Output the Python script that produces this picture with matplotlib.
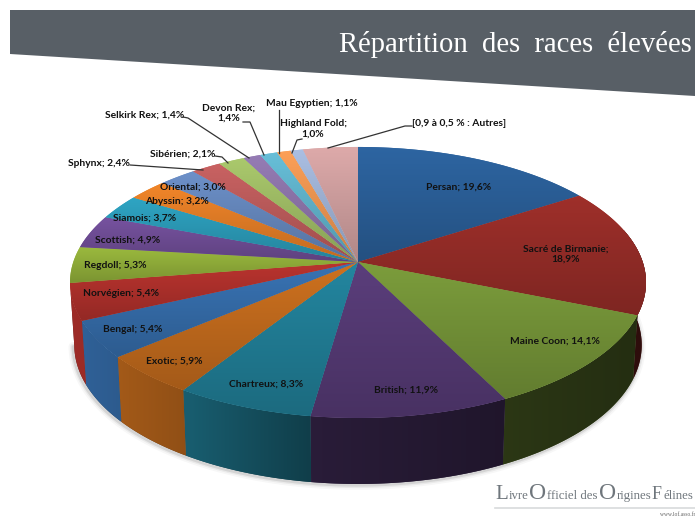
import numpy as np
import matplotlib
matplotlib.use('Agg')
import matplotlib.pyplot as plt
from matplotlib.patches import Polygon
from matplotlib.colors import LinearSegmentedColormap

breeds = ['Persan', 'Sacré de Birmanie', 'Maine Coon', 'British', 'Chartreux', 'Exotic', 'Bengal',
          'Norvégien', 'Regdoll', 'Scottish', 'Siamois', 'Abyssin', 'Oriental', 'Sphynx', 'Sibérien',
          'Selkirk Rex', 'Devon Rex', 'Mau Egyptien', 'Highland Fold', 'Autres']
# the "Autres" slice has no number on the chart, it is read from the size of the slice
values = [19.6, 18.9, 14.1, 11.9, 8.3, 5.9, 5.4, 5.4, 5.3, 4.9, 3.7, 3.2, 3.0, 2.4, 2.1, 1.4, 1.4, 1.1, 1.0, 4.4]
colors = ['#2c629d', '#9a2e29', '#78983a', '#583c78', '#22829b', '#c86e1e', '#3770af', '#b4322d',
          '#96b43c', '#73509b', '#2da0be', '#eb8228', '#698cc3', '#c35f5f', '#a5c369', '#9178af',
          '#64b9d2', '#f59b55', '#a5b9dc', '#d7a5a5']
labels = ['Persan; 19,6%', 'Sacré de Birmanie;\n18,9%', 'Maine Coon; 14,1%', 'British; 11,9%', 'Chartreux; 8,3%',
          'Exotic; 5,9%', 'Bengal; 5,4%', 'Norvégien; 5,4%', 'Regdoll; 5,3%', 'Scottish; 4,9%', 'Siamois; 3,7%',
          'Abyssin; 3,2%', 'Oriental; 3,0%', 'Sphynx; 2,4%', 'Sibérien; 2,1%', 'Selkirk Rex; 1,4%',
          'Devon Rex;\n1,4%', 'Mau Egyptien; 1,1%', 'Highland Fold;\n1,0%', '[0,9 à 0,5 % : Autres]']
label_pos = [(459, 187), (566, 254), (555, 341), (406, 390), (266, 384), (174, 361), (133, 329), (121, 294),
             (115, 266), (128, 240), (145, 218), (177, 202), (193, 187), (99, 163), (183, 154), (145, 115),
             (229, 113), (312, 104), (313, 129), (459, 124)]
leaders = [
    [(130, 165), (203, 170)],
    [(215, 156), (222, 157), (228, 163)],
    [(183, 117), (188, 118), (249, 158)],
    [(243, 122), (250, 122), (264, 155)],
    [(279, 110), (279, 153)],
    [(302, 139), (297, 140), (292, 153)],
    [(412, 126), (405, 126), (328, 148)],
]

fig = plt.figure(figsize=(6.95, 5.17), dpi=100)
ax = fig.add_axes([0, 0, 1, 1])
ax.set_xlim(0, 695)
ax.set_ylim(517, 0)
ax.axis('off')


# disc seen in perspective, theta clockwise from the top
def top_face(t):
    w = 1 + 0.151 * np.cos(t)
    return 358 + 284.7 * np.sin(t) / w, 262 - 132.4 * np.cos(t) / w


def bottom_face(t):
    x, y = top_face(t)
    return 358 + (x - 358) * 0.985, y + 62 - 4 * np.cos(t)


def shade(c, f):
    return tuple(np.array(matplotlib.colors.to_rgb(c)) * f)


edges = np.concatenate([[0], np.cumsum(values)]) / sum(values) * 2 * np.pi

# soft shadow under the pie
tt = np.linspace(np.pi / 2 - 0.1, 1.45 * np.pi, 200)
bx, by = bottom_face(tt)
for lw, a in [(7, 0.03), (4.5, 0.05), (2.5, 0.09)]:
    ax.plot(bx - 1, by + 1, color='black', lw=lw, alpha=a, solid_capstyle='round', zorder=1)

# side wall, darker towards the right
for i, c in enumerate(colors):
    t0 = max(edges[i], np.pi * 0.42)
    t1 = min(edges[i + 1], np.pi * 1.45)
    if t1 <= t0:
        continue
    tt = np.linspace(t0, t1, 50)
    xa, ya = top_face(tt)
    xb, yb = bottom_face(tt)
    pts = np.column_stack([np.r_[xa, xb[::-1]], np.r_[ya, yb[::-1]]])
    poly = Polygon(pts, fc=shade(c, 0.5), ec='none', zorder=2)
    ax.add_patch(poly)
    xs = np.linspace(pts[:, 0].min(), pts[:, 0].max(), 64)
    f = np.interp(xs, [70, 187, 315, 508, 640], [0.88, 0.72, 0.47, 0.36, 0.3])
    img = np.outer(f, matplotlib.colors.to_rgb(c)).reshape(1, -1, 3)
    im = ax.imshow(img, aspect='auto', zorder=2.1, interpolation='bilinear',
                   extent=(xs[0], xs[-1], pts[:, 1].max(), pts[:, 1].min()))
    im.set_clip_path(poly)

# top face, every slice with its own vertical gradient
for i, c in enumerate(colors):
    tt = np.linspace(edges[i], edges[i + 1], 60)
    x, y = top_face(tt)
    pts = np.column_stack([np.r_[358, x], np.r_[262, y]])
    poly = Polygon(pts, fc=c, ec='none', zorder=3)
    ax.add_patch(poly)
    cmap = LinearSegmentedColormap.from_list('g', [shade(c, 1.03), shade(c, 0.82)])
    im = ax.imshow(np.linspace(0, 1, 64).reshape(-1, 1), cmap=cmap, aspect='auto', zorder=3.1,
                   extent=(pts[:, 0].min(), pts[:, 0].max(), pts[:, 1].max(), pts[:, 1].min()))
    im.set_clip_path(poly)
ax.set_xlim(0, 695)
ax.set_ylim(517, 0)

for pts in leaders:
    ax.plot([p[0] for p in pts], [p[1] for p in pts], color='#333333', lw=0.9, zorder=4)

for lab, (x, y) in zip(labels, label_pos):
    ax.text(x, y, lab, ha='center', va='center', fontsize=7.4, family='Lato', fontweight='bold',
            color='#111111', linespacing=1.2, zorder=5)

# header band
ax.add_patch(Polygon([(10, 10), (695, 10), (695, 96), (10, 54)], fc='#585f66', ec='none', zorder=6))
ax.text(692, 45, 'Répartition  des  races  élevées', ha='right', va='center', color='white',
        fontsize=20.6, family='Liberation Serif', zorder=7)

# logo bottom right, big initials
parts = ['L', 'ivre', 'O', 'fficiel des', 'O', 'rigines', 'F', 'élines']
part_x = [495, 509, 529, 547, 599, 617, 652, 663]
part_size = [15, 9.2, 17, 9.2, 17, 9.2, 13, 9.2]
for s, x, fs in zip(parts, part_x, part_size):
    ax.text(x, 499, s, fontsize=fs, family='Liberation Serif', color='#6f767c', ha='left',
            va='baseline', zorder=7)
ax.plot([495, 695], [508, 508], color='#d8dadc', lw=1.2, zorder=7)
ax.text(695, 514, 'www.lof.asso.fr', fontsize=4, family='Liberation Serif', color='#666666', ha='right',
        va='center', zorder=7)

fig.savefig('out.png', dpi=100)
